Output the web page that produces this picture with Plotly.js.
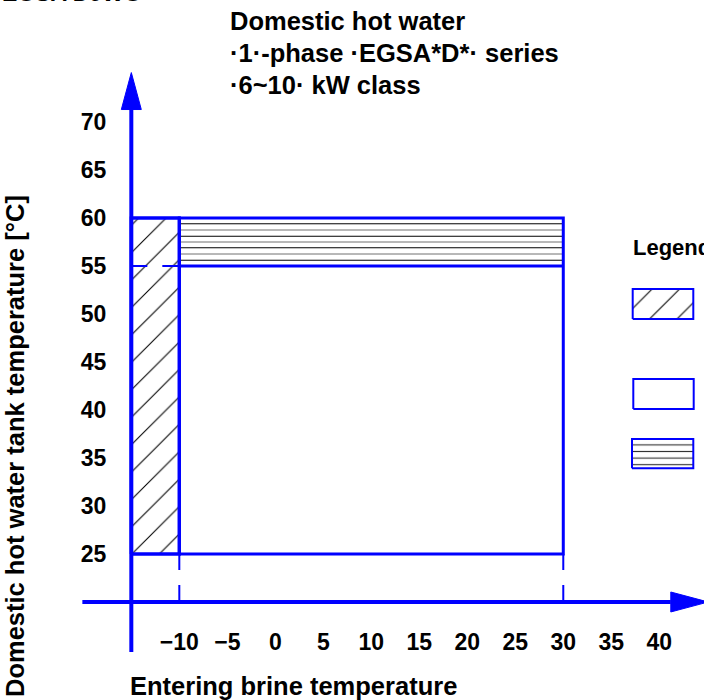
<!DOCTYPE html>
<html>
<head>
<meta charset="utf-8">
<script src="https://cdn.plot.ly/plotly-3.0.1.min.js"></script>
<style>
  html, body { margin: 0; padding: 0; background: #ffffff; }
  #chart { width: 704px; height: 700px; }
</style>
</head>
<body>
<div id="chart"></div>
<script>
// ---------------- data ----------------
const xTicks = [-10, -5, 0, 5, 10, 15, 20, 25, 30, 35, 40];
const yTicks = [25, 30, 35, 40, 45, 50, 55, 60, 65, 70];

// operating zones (entering brine temperature, tank temperature)
const hatchZoneX = [-15, -10];
const hatchZoneY = [25, 60];
const plainZoneX = [-10, 30];
const plainZoneY = [25, 55];
const linedZoneX = [-10, 30];
const linedZoneY = [55, 60];
const linedLevels = [59.4, 58.75, 58.1, 57.5, 56.9, 56.25, 55.6];

// drawn axes (origin cross and extents)
const axisCrossX = -15;
const axisCrossY = 20;
const xAxisSpan = [-20.1, 41.2];
const yAxisSpan = [14.8, 71.3];
const xArrowTip = 45.1;
const yArrowTip = 75.15;

const titleLines = ['Domestic hot water', '·1·-phase ·EGSA*D*· series', '·6~10· kW class'];
const xTitle = 'Entering brine temperature';
const yTitle = 'Domestic hot water tank temperature [°C]';
const legendTitle = 'Legend';
const headerText = 'EGSA D9WG';

// ---------------- style ----------------
const W = 704, H = 700;
const BLUE = '#0000ff';
const TXT = 'Liberation Sans, Arial, Helvetica, sans-serif';
const NUM = 'Liberation Sans Narrow, Arial Narrow, Liberation Sans, sans-serif';
const TITLE_SIZE = 25.5;

function rectPath(xr, yr) {
  return { x: [xr[0], xr[1], xr[1], xr[0], xr[0]], y: [yr[0], yr[0], yr[1], yr[1], yr[0]] };
}

const traces = [];

// hatched zone fill
const hz = rectPath(hatchZoneX, hatchZoneY);
traces.push({
  type: 'scatter', mode: 'lines', x: hz.x, y: hz.y, fill: 'toself',
  fillcolor: 'white',
  fillpattern: { shape: '/', size: 19.4, solidity: 0.055, fgcolor: '#000000', bgcolor: 'white' },
  line: { color: BLUE, width: 3 }, hoverinfo: 'skip', showlegend: false
});

// horizontal hatch lines in lined zone
linedLevels.forEach((lv, i) => {
  traces.push({
    type: 'scatter', mode: 'lines', x: linedZoneX, y: [lv, lv],
    line: { color: i % 2 === 0 ? '#000000' : '#707070', width: 1 },
    hoverinfo: 'skip', showlegend: false
  });
});

// outlines
const pz = rectPath(plainZoneX, [plainZoneY[0], linedZoneY[1]]);
traces.push({ type: 'scatter', mode: 'lines', x: pz.x, y: pz.y,
  line: { color: BLUE, width: 3 }, hoverinfo: 'skip', showlegend: false });
traces.push({ type: 'scatter', mode: 'lines', x: linedZoneX, y: [linedZoneY[0], linedZoneY[0]],
  line: { color: BLUE, width: 3 }, hoverinfo: 'skip', showlegend: false });
traces.push({ type: 'scatter', mode: 'lines', x: hz.x, y: hz.y,
  line: { color: BLUE, width: 3 }, hoverinfo: 'skip', showlegend: false });

// dashed guides
plainZoneX.forEach(xv => {
  traces.push({ type: 'scatter', mode: 'lines', x: [xv, xv], y: [plainZoneY[0], axisCrossY],
    line: { color: BLUE, width: 2, dash: '16px,15px' }, hoverinfo: 'skip', showlegend: false });
});
traces.push({ type: 'scatter', mode: 'lines', x: [hatchZoneX[0], hatchZoneX[1]], y: [linedZoneY[0], linedZoneY[0]],
  line: { color: BLUE, width: 2, dash: '16px,15px' }, hoverinfo: 'skip', showlegend: false });

// legend boxes on their own tiny axes
const legendBoxes = [
  { l: 632.7, t: 289, r: 693.3, b: 319, kind: 'hatch' },
  { l: 633.3, t: 379, r: 693.7, b: 409, kind: 'plain' },
  { l: 632.0, t: 439, r: 693.3, b: 468.3, kind: 'lined' }
];
const extraAxes = {};
legendBoxes.forEach((bx, i) => {
  const n = i + 2, pad = 4;
  const bw = bx.r - bx.l, bh = bx.b - bx.t;
  extraAxes['xaxis' + n] = { domain: [(bx.l - pad) / W, (bx.r + pad) / W], range: [-pad / bw, 1 + pad / bw],
    visible: false, fixedrange: true, anchor: 'y' + n };
  extraAxes['yaxis' + n] = { domain: [(H - bx.b - pad) / H, (H - bx.t + pad) / H], range: [-pad / bh, 1 + pad / bh],
    visible: false, fixedrange: true, anchor: 'x' + n };
  const tr = { type: 'scatter', mode: 'lines', xaxis: 'x' + n, yaxis: 'y' + n,
    x: [0, 1, 1, 0, 0], y: [0, 0, 1, 1, 0], fill: 'toself', fillcolor: 'white',
    line: { color: BLUE, width: 2 }, hoverinfo: 'skip', showlegend: false };
  if (bx.kind === 'hatch') tr.fillpattern = { shape: '/', size: 19.4, solidity: 0.055, fgcolor: '#000000', bgcolor: 'white' };
  if (bx.kind === 'lined') tr.fillpattern = { shape: '-', size: 6.6, solidity: 0.17, fgcolor: '#333333', bgcolor: 'white' };
  traces.push(tr);
});

// axis lines with arrow heads
const shapes = [
  { type: 'line', xref: 'x', yref: 'y', x0: xAxisSpan[0], x1: xAxisSpan[1], y0: axisCrossY, y1: axisCrossY,
    line: { color: BLUE, width: 4 } },
  { type: 'line', xref: 'x', yref: 'y', x0: axisCrossX, x1: axisCrossX, y0: yAxisSpan[0], y1: yAxisSpan[1],
    line: { color: BLUE, width: 4 } },
  { type: 'path', xref: 'x', yref: 'y', fillcolor: BLUE, line: { color: BLUE, width: 1 },
    path: `M${xAxisSpan[1]},${axisCrossY - 1.04} L${xArrowTip},${axisCrossY} L${xAxisSpan[1]},${axisCrossY + 1.04} Z` },
  { type: 'path', xref: 'x', yref: 'y', fillcolor: BLUE, line: { color: BLUE, width: 1 },
    path: `M${axisCrossX - 1.04},${yAxisSpan[1]} L${axisCrossX},${yArrowTip} L${axisCrossX + 1.04},${yAxisSpan[1]} Z` }
];

const titleY = [21, 53, 85];
const annotations = titleLines.map((t, i) => ({
  text: t, xref: 'paper', yref: 'paper', x: 228 / W, y: (H - titleY[i]) / H,
  xanchor: 'left', yanchor: 'middle', showarrow: false,
  font: { family: TXT, size: TITLE_SIZE, color: '#000', weight: 'bold' }
}));
annotations.push({ text: xTitle, xref: 'paper', yref: 'paper', x: 128 / W, y: (H - 686) / H,
  xanchor: 'left', yanchor: 'middle', showarrow: false,
  font: { family: TXT, size: TITLE_SIZE, color: '#000', weight: 'bold' } });
annotations.push({ text: yTitle, xref: 'paper', yref: 'paper', x: 15 / W, y: (H - 446) / H,
  xanchor: 'center', yanchor: 'middle', textangle: -90, showarrow: false,
  font: { family: TXT, size: TITLE_SIZE, color: '#000', weight: 'bold' } });
annotations.push({ text: legendTitle, xref: 'paper', yref: 'paper', x: 631 / W, y: (H - 247) / H,
  xanchor: 'left', yanchor: 'middle', showarrow: false,
  font: { family: TXT, size: 22, color: '#000', weight: 'bold' } });
annotations.push({ text: headerText, xref: 'paper', yref: 'paper', x: 0, y: (H + 7) / H,
  xanchor: 'left', yanchor: 'middle', showarrow: false,
  font: { family: TXT, size: 23, color: '#000', weight: 'bold' } });

const layout = Object.assign({
  width: W, height: H,
  margin: { l: 0, r: 0, t: 0, b: 0 },
  paper_bgcolor: 'white', plot_bgcolor: 'white',
  showlegend: false,
  xaxis: {
    range: [-28.68, 44.66], anchor: 'free', position: 0.106,
    tickmode: 'array', tickvals: xTicks, ticktext: xTicks.map(v => v < 0 ? '\u2212' + Math.abs(v) : String(v)),
    ticks: '', showline: false, showgrid: false, zeroline: false, fixedrange: true,
    tickfont: { family: NUM, size: 23, color: '#000', weight: 'bold' }
  },
  yaxis: {
    range: [9.79, 82.71], anchor: 'free', position: 0.151,
    tickmode: 'array', tickvals: yTicks, ticktext: yTicks.map(String),
    ticks: '', showline: false, showgrid: false, zeroline: false, fixedrange: true,
    tickfont: { family: NUM, size: 23, color: '#000', weight: 'bold' }
  },
  shapes: shapes,
  annotations: annotations
}, extraAxes);

Plotly.newPlot('chart', traces, layout, { displayModeBar: false, staticPlot: true });
</script>
</body>
</html>
